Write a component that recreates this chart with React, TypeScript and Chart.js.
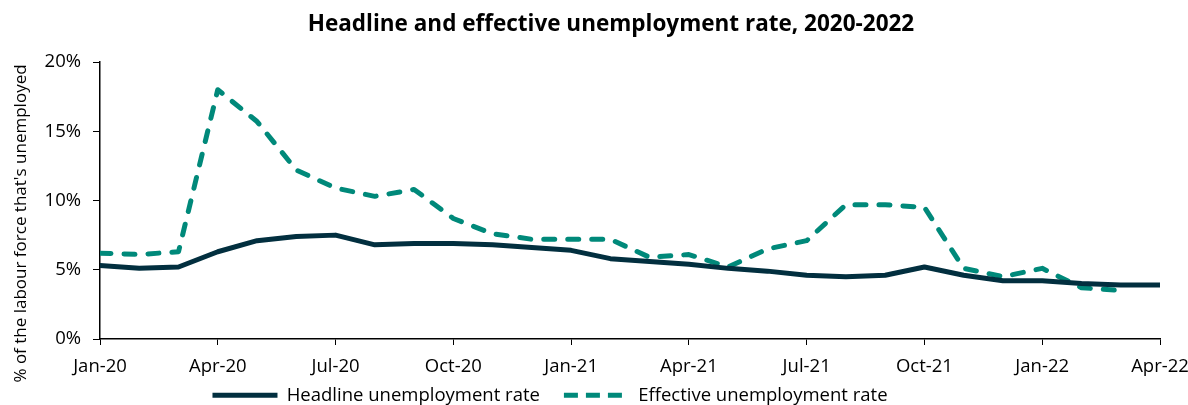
import React, { useEffect, useRef } from "react";
import { Chart, registerables } from "chart.js";

Chart.register(...registerables);

// Monthly observations, Jan-20 through Apr-22
const months = [
  "Jan-20", "Feb-20", "Mar-20", "Apr-20", "May-20", "Jun-20", "Jul-20", "Aug-20", "Sep-20", "Oct-20", "Nov-20", "Dec-20",
  "Jan-21", "Feb-21", "Mar-21", "Apr-21", "May-21", "Jun-21", "Jul-21", "Aug-21", "Sep-21", "Oct-21", "Nov-21", "Dec-21",
  "Jan-22", "Feb-22", "Mar-22", "Apr-22",
];

// Headline unemployment rate (%)
const headline = [
  5.3, 5.1, 5.2, 6.3, 7.1, 7.4, 7.5, 6.8, 6.9, 6.9, 6.8, 6.6,
  6.4, 5.8, 5.6, 5.4, 5.1, 4.9, 4.6, 4.5, 4.6, 5.2, 4.6, 4.2,
  4.2, 4.0, 3.9, 3.9,
];

// Effective unemployment rate (%), no estimate for the last month
const effective: (number | null)[] = [
  6.2, 6.1, 6.3, 18.0, 15.7, 12.2, 10.9, 10.3, 10.8, 8.7, 7.6, 7.2,
  7.2, 7.2, 5.9, 6.1, 5.2, 6.5, 7.1, 9.7, 9.7, 9.5, 5.1, 4.5,
  5.1, 3.7, 3.5, null,
];

const yTicks = [0, 5, 10, 15, 20];

const TITLE = "Headline and effective unemployment rate, 2020-2022";
const Y_TITLE = "% of the labour force that's unemployed";

const FONT = "'Open Sans', 'Noto Sans', sans-serif";
const NAVY = "#022F3F";
const TEAL = "#00897A";

// Rotated y-axis caption, drawn beside the plot
const yTitlePlugin = {
  id: "yTitle",
  afterDraw(chart: Chart) {
    const { ctx, chartArea } = chart;
    ctx.save();
    ctx.translate(21, (chartArea.top + chartArea.bottom) / 2 + 23);
    ctx.rotate(-Math.PI / 2);
    ctx.font = `17px ${FONT}`;
    ctx.fillStyle = "#000";
    ctx.textAlign = "center";
    ctx.textBaseline = "middle";
    ctx.fillText(Y_TITLE, 0, 0);
    ctx.restore();
  },
};

// Nudge the title and legend after layout
const blockShiftPlugin = {
  id: "blockShift",
  afterLayout(chart: any) {
    if (chart.titleBlock) {
      chart.titleBlock.left += 27;
      chart.titleBlock.right += 27;
    }
    if (chart.legend) {
      chart.legend.left -= 34;
      chart.legend.right -= 34;
      chart.legend.top -= 17;
      chart.legend.bottom -= 17;
    }
  },
};

export default function App() {
  const canvasRef = useRef<HTMLCanvasElement | null>(null);

  useEffect(() => {
    if (!canvasRef.current) return;
    const chart = new Chart(canvasRef.current, {
      type: "line",
      data: {
        datasets: [
          {
            label: "Headline unemployment rate",
            data: headline.map((v, i) => ({ x: i, y: v })),
            borderColor: NAVY,
            backgroundColor: NAVY,
            borderWidth: 5,
            borderCapStyle: "round",
            borderJoinStyle: "round",
            pointRadius: 0,
            tension: 0,
          },
          {
            label: "Effective unemployment rate",
            data: effective.map((v, i) => ({ x: i, y: v })),
            borderColor: TEAL,
            backgroundColor: TEAL,
            borderWidth: 5,
            borderDash: [11, 13],
            borderCapStyle: "round",
            borderJoinStyle: "round",
            pointRadius: 0,
            tension: 0,
          },
        ],
      },
      options: {
        animation: false,
        responsive: true,
        maintainAspectRatio: false,
        layout: { padding: { left: 8, right: 28, top: 0, bottom: -26.5 } },
        plugins: {
          title: {
            display: true,
            text: TITLE,
            color: "#000",
            font: { family: FONT, size: 22.5, weight: "bold", lineHeight: 1.2 },
            padding: { top: 11.5, bottom: 23.5 },
          },
          legend: {
            display: true,
            position: "bottom",
            labels: {
              usePointStyle: true,
              pointStyle: "line",
              pointStyleWidth: 65,
              color: "#000",
              font: { family: FONT, size: 18.5 },
              padding: 24,
              generateLabels: (c) =>
                Chart.defaults.plugins.legend.labels.generateLabels(c).map((item) => ({
                  ...item,
                  lineDash: item.datasetIndex === 1 ? [14, 8] : [],
                })),
            },
          },
          tooltip: { enabled: false },
        },
        scales: {
          x: {
            type: "linear",
            min: 0,
            max: months.length - 1,
            afterFit: (scale: any) => {
              scale.height = 40;
              scale.paddingLeft = 0;
              scale.paddingRight = 0;
            },
            grid: {
              drawOnChartArea: false,
              drawTicks: true,
              tickLength: 6,
              color: "#000",
            },
            border: { display: true, color: "#000", width: 1.5 },
            ticks: {
              stepSize: 3,
              autoSkip: false,
              maxRotation: 0,
              padding: 11,
              color: "#000",
              font: { family: FONT, size: 18.5 },
              callback: (v) => months[Number(v)] ?? "",
            },
          },
          y: {
            min: 0,
            max: 20,
            afterBuildTicks: (scale) => {
              scale.ticks = yTicks.map((value) => ({ value }));
            },
            afterFit: (scale) => {
              scale.width = 92;
            },
            grid: {
              drawOnChartArea: false,
              drawTicks: true,
              tickLength: 7,
              color: "#000",
            },
            border: { display: true, color: "#000", width: 1.5 },
            ticks: {
              padding: 12,
              color: "#000",
              font: { family: FONT, size: 18.5 },
              callback: (v) => `${v}%`,
            },
          },
        },
      },
      plugins: [yTitlePlugin, blockShiftPlugin],
    });
    return () => chart.destroy();
  }, []);

  return (
    <div style={{ position: "fixed", left: 0, top: 0, width: 1188, height: 405, background: "#fff" }}>
      <canvas ref={canvasRef} />
    </div>
  );
}
